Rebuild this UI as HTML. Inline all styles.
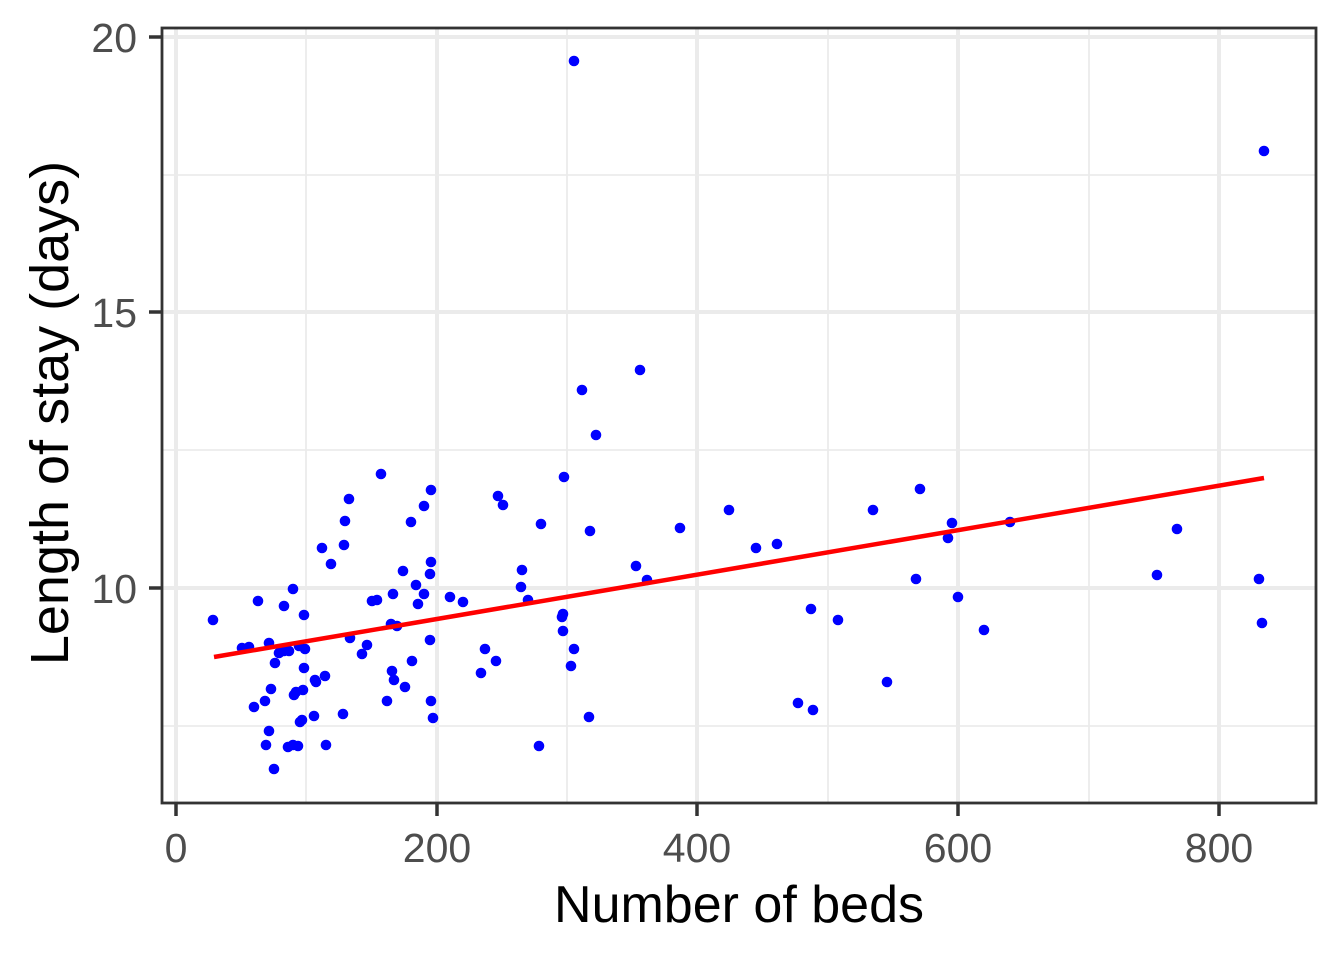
<!DOCTYPE html>
<html><head><meta charset="utf-8"><style>body{margin:0;background:#fff}circle{r:5.3px}</style></head><body>
<svg width="1344" height="960" xmlns="http://www.w3.org/2000/svg" font-family="Liberation Sans, sans-serif">
<rect width="1344" height="960" fill="#fff"/>
<g stroke="#ebebeb" stroke-width="1.8">
<line x1="162" x2="1316" y1="726" y2="726"/><line x1="162" x2="1316" y1="450" y2="450"/><line x1="162" x2="1316" y1="175" y2="175"/>
<line x1="306" x2="306" y1="28" y2="803"/><line x1="567" x2="567" y1="28" y2="803"/><line x1="828" x2="828" y1="28" y2="803"/><line x1="1089" x2="1089" y1="28" y2="803"/>
</g>
<g stroke="#ebebeb" stroke-width="4">
<line x1="162" x2="1316" y1="588" y2="588"/><line x1="162" x2="1316" y1="312" y2="312"/><line x1="162" x2="1316" y1="37" y2="37"/>
<line x1="176" x2="176" y1="28" y2="803"/><line x1="437" x2="437" y1="28" y2="803"/><line x1="697" x2="697" y1="28" y2="803"/><line x1="958" x2="958" y1="28" y2="803"/><line x1="1219" x2="1219" y1="28" y2="803"/>
</g>
<g fill="#0000ff">
<circle cx="213" cy="620" r="5.3"/><circle cx="242" cy="648" r="5.3"/><circle cx="249" cy="647" r="5.3"/><circle cx="254" cy="707" r="5.3"/><circle cx="258" cy="601" r="5.3"/><circle cx="265" cy="701" r="5.3"/><circle cx="266" cy="745" r="5.3"/><circle cx="269" cy="643" r="5.3"/><circle cx="269" cy="731" r="5.3"/><circle cx="271" cy="689" r="5.3"/><circle cx="274" cy="769" r="5.3"/><circle cx="275" cy="663" r="5.3"/><circle cx="279" cy="653" r="5.3"/><circle cx="284" cy="606" r="5.3"/><circle cx="284" cy="651" r="5.3"/><circle cx="288" cy="747" r="5.3"/><circle cx="289" cy="651" r="5.3"/><circle cx="293" cy="589" r="5.3"/><circle cx="293" cy="745" r="5.3"/><circle cx="294" cy="695" r="5.3"/><circle cx="296" cy="692" r="5.3"/><circle cx="298" cy="746" r="5.3"/><circle cx="299" cy="646" r="5.3"/><circle cx="300" cy="722" r="5.3"/><circle cx="302" cy="720" r="5.3"/><circle cx="303" cy="690" r="5.3"/><circle cx="304" cy="668" r="5.3"/><circle cx="304" cy="615" r="5.3"/><circle cx="305" cy="649" r="5.3"/><circle cx="314" cy="716" r="5.3"/><circle cx="315" cy="680" r="5.3"/><circle cx="316" cy="682" r="5.3"/><circle cx="322" cy="548" r="5.3"/><circle cx="325" cy="676" r="5.3"/><circle cx="326" cy="745" r="5.3"/><circle cx="331" cy="564" r="5.3"/><circle cx="343" cy="714" r="5.3"/><circle cx="344" cy="545" r="5.3"/><circle cx="345" cy="521" r="5.3"/><circle cx="349" cy="499" r="5.3"/><circle cx="350" cy="638" r="5.3"/><circle cx="362" cy="654" r="5.3"/><circle cx="367" cy="645" r="5.3"/><circle cx="372" cy="601" r="5.3"/><circle cx="377" cy="600" r="5.3"/><circle cx="381" cy="474" r="5.3"/><circle cx="387" cy="701" r="5.3"/><circle cx="391" cy="624" r="5.3"/><circle cx="392" cy="671" r="5.3"/><circle cx="393" cy="594" r="5.3"/><circle cx="394" cy="680" r="5.3"/><circle cx="397" cy="626" r="5.3"/><circle cx="403" cy="571" r="5.3"/><circle cx="405" cy="687" r="5.3"/><circle cx="411" cy="522" r="5.3"/><circle cx="412" cy="661" r="5.3"/><circle cx="416" cy="585" r="5.3"/><circle cx="418" cy="604" r="5.3"/><circle cx="424" cy="506" r="5.3"/><circle cx="424" cy="594" r="5.3"/><circle cx="430" cy="640" r="5.3"/><circle cx="430" cy="574" r="5.3"/><circle cx="431" cy="562" r="5.3"/><circle cx="431" cy="490" r="5.3"/><circle cx="431" cy="701" r="5.3"/><circle cx="433" cy="718" r="5.3"/><circle cx="450" cy="597" r="5.3"/><circle cx="463" cy="602" r="5.3"/><circle cx="481" cy="673" r="5.3"/><circle cx="485" cy="649" r="5.3"/><circle cx="496" cy="661" r="5.3"/><circle cx="498" cy="496" r="5.3"/><circle cx="503" cy="505" r="5.3"/><circle cx="521" cy="587" r="5.3"/><circle cx="522" cy="570" r="5.3"/><circle cx="528" cy="600" r="5.3"/><circle cx="539" cy="746" r="5.3"/><circle cx="541" cy="524" r="5.3"/><circle cx="562" cy="617" r="5.3"/><circle cx="563" cy="614" r="5.3"/><circle cx="563" cy="631" r="5.3"/><circle cx="564" cy="477" r="5.3"/><circle cx="571" cy="666" r="5.3"/><circle cx="574" cy="649" r="5.3"/><circle cx="582" cy="390" r="5.3"/><circle cx="589" cy="717" r="5.3"/><circle cx="590" cy="531" r="5.3"/><circle cx="596" cy="435" r="5.3"/><circle cx="636" cy="566" r="5.3"/><circle cx="640" cy="370" r="5.3"/><circle cx="647" cy="580" r="5.3"/><circle cx="680" cy="528" r="5.3"/><circle cx="729" cy="510" r="5.3"/><circle cx="756" cy="548" r="5.3"/><circle cx="777" cy="544" r="5.3"/><circle cx="798" cy="703" r="5.3"/><circle cx="811" cy="609" r="5.3"/><circle cx="813" cy="710" r="5.3"/><circle cx="838" cy="620" r="5.3"/><circle cx="873" cy="510" r="5.3"/><circle cx="887" cy="682" r="5.3"/><circle cx="916" cy="579" r="5.3"/><circle cx="920" cy="489" r="5.3"/><circle cx="948" cy="538" r="5.3"/><circle cx="952" cy="523" r="5.3"/><circle cx="958" cy="597" r="5.3"/><circle cx="984" cy="630" r="5.3"/><circle cx="1010" cy="522" r="5.3"/><circle cx="1157" cy="575" r="5.3"/><circle cx="1177" cy="529" r="5.3"/><circle cx="1259" cy="579" r="5.3"/><circle cx="1262" cy="623" r="5.3"/><circle cx="1264" cy="151" r="5.3"/><circle cx="574" cy="61" r="5.3"/>
</g>
<line x1="214" y1="657" x2="1264" y2="478" stroke="#ff0000" stroke-width="4.5"/>
<rect x="162" y="28" width="1154" height="775" fill="none" stroke="#333" stroke-width="2.8"/>
<g stroke="#333" stroke-width="3.5">
<line x1="149" x2="162" y1="588" y2="588"/><line x1="149" x2="162" y1="312" y2="312"/><line x1="149" x2="162" y1="37" y2="37"/>
<line x1="176" x2="176" y1="803" y2="816"/><line x1="437" x2="437" y1="803" y2="816"/><line x1="697" x2="697" y1="803" y2="816"/><line x1="958" x2="958" y1="803" y2="816"/><line x1="1219" x2="1219" y1="803" y2="816"/>
</g>
<g fill="#4d4d4d" font-size="41" text-anchor="end">
<text x="137" y="603">10</text><text x="137" y="327">15</text><text x="137" y="52">20</text>
</g>
<g fill="#4d4d4d" font-size="41" text-anchor="middle">
<text x="176" y="862">0</text><text x="437" y="862">200</text><text x="697" y="862">400</text><text x="958" y="862">600</text><text x="1219" y="862">800</text>
</g>
<text x="739" y="922" font-size="52" text-anchor="middle">Number of beds</text>
<text transform="translate(68,413) rotate(-90)" font-size="54" text-anchor="middle">Length of stay (days)</text>
</svg>
</body></html>
